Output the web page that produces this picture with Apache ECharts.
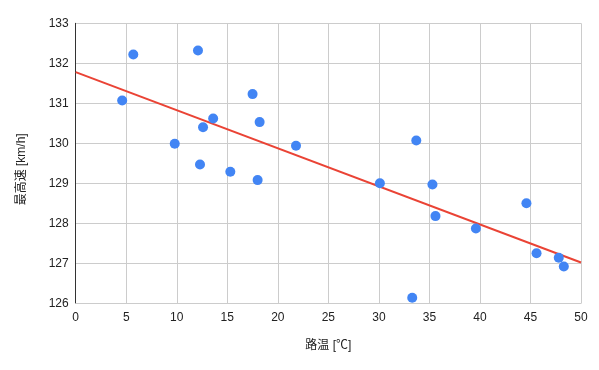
<!DOCTYPE html>
<html><head><meta charset="utf-8">
<script src="https://cdn.jsdelivr.net/npm/echarts@6/dist/echarts.min.js"></script>
<style>html,body{margin:0;padding:0;background:#fff}#c{width:599px;height:370px}</style>
</head><body><div id="c"></div>
<script>
const roadTemp = [4.6, 5.7, 9.8, 12.1, 12.3, 12.6, 13.6, 15.3, 17.5, 18.0, 18.2, 21.8, 30.1, 33.3, 33.7, 35.3, 35.6, 39.6, 44.6, 45.6, 47.8, 48.3];
const topSpeed = [131.07, 132.22, 129.99, 132.32, 129.47, 130.40, 130.62, 129.29, 131.23, 129.08, 130.53, 129.94, 129.0, 126.14, 130.07, 128.97, 128.18, 127.87, 128.5, 127.25, 127.14, 126.92];
const trendX = [0, 50];
const trendY = [131.78, 127.02];
const xTitle = '路温 [℃]';
const yTitle = '最高速 [km/h]';

const font = '"Liberation Sans", Arial, "Noto Sans CJK JP", sans-serif';
const chart = echarts.init(document.getElementById('c'), null, {renderer: 'canvas'});
chart.setOption({
  animation: false,
  backgroundColor: '#fff',
  grid: {left: 75.7, right: 18, top: 23.3, bottom: 66.7, containLabel: false},
  xAxis: {
    type: 'value', min: 0, max: 50, interval: 5,
    name: xTitle, nameLocation: 'middle', nameGap: 36,
    nameTextStyle: {fontFamily: font, fontSize: 12, color: '#222'},
    axisLine: {show: true, onZero: false, lineStyle: {color: '#ccc', width: 1}},
    axisTick: {show: false},
    axisLabel: {fontFamily: font, fontSize: 12, color: '#222', margin: 8},
    splitLine: {show: true, lineStyle: {color: '#ccc', width: 1}}
  },
  yAxis: {
    type: 'value', min: 126, max: 133, interval: 1,
    name: yTitle, nameLocation: 'middle', nameGap: 48, nameRotate: 90,
    nameTextStyle: {fontFamily: font, fontSize: 12, color: '#222', padding: [0, 12, 0, 0]},
    axisLine: {show: true, onZero: false, lineStyle: {color: '#333', width: 1}},
    axisTick: {show: false},
    axisLabel: {fontFamily: font, fontSize: 12, color: '#222', margin: 7},
    splitLine: {show: true, lineStyle: {color: '#ccc', width: 1}}
  },
  series: [
    {
      type: 'line', data: trendX.map((x, i) => [x, trendY[i]]),
      showSymbol: false, symbol: 'none',
      lineStyle: {color: '#EA4335', width: 2}, z: 2
    },
    {
      type: 'scatter', data: roadTemp.map((x, i) => [x, topSpeed[i]]),
      symbolSize: 10, itemStyle: {color: '#4285F4', opacity: 1}, z: 3
    }
  ]
});
</script></body></html>
